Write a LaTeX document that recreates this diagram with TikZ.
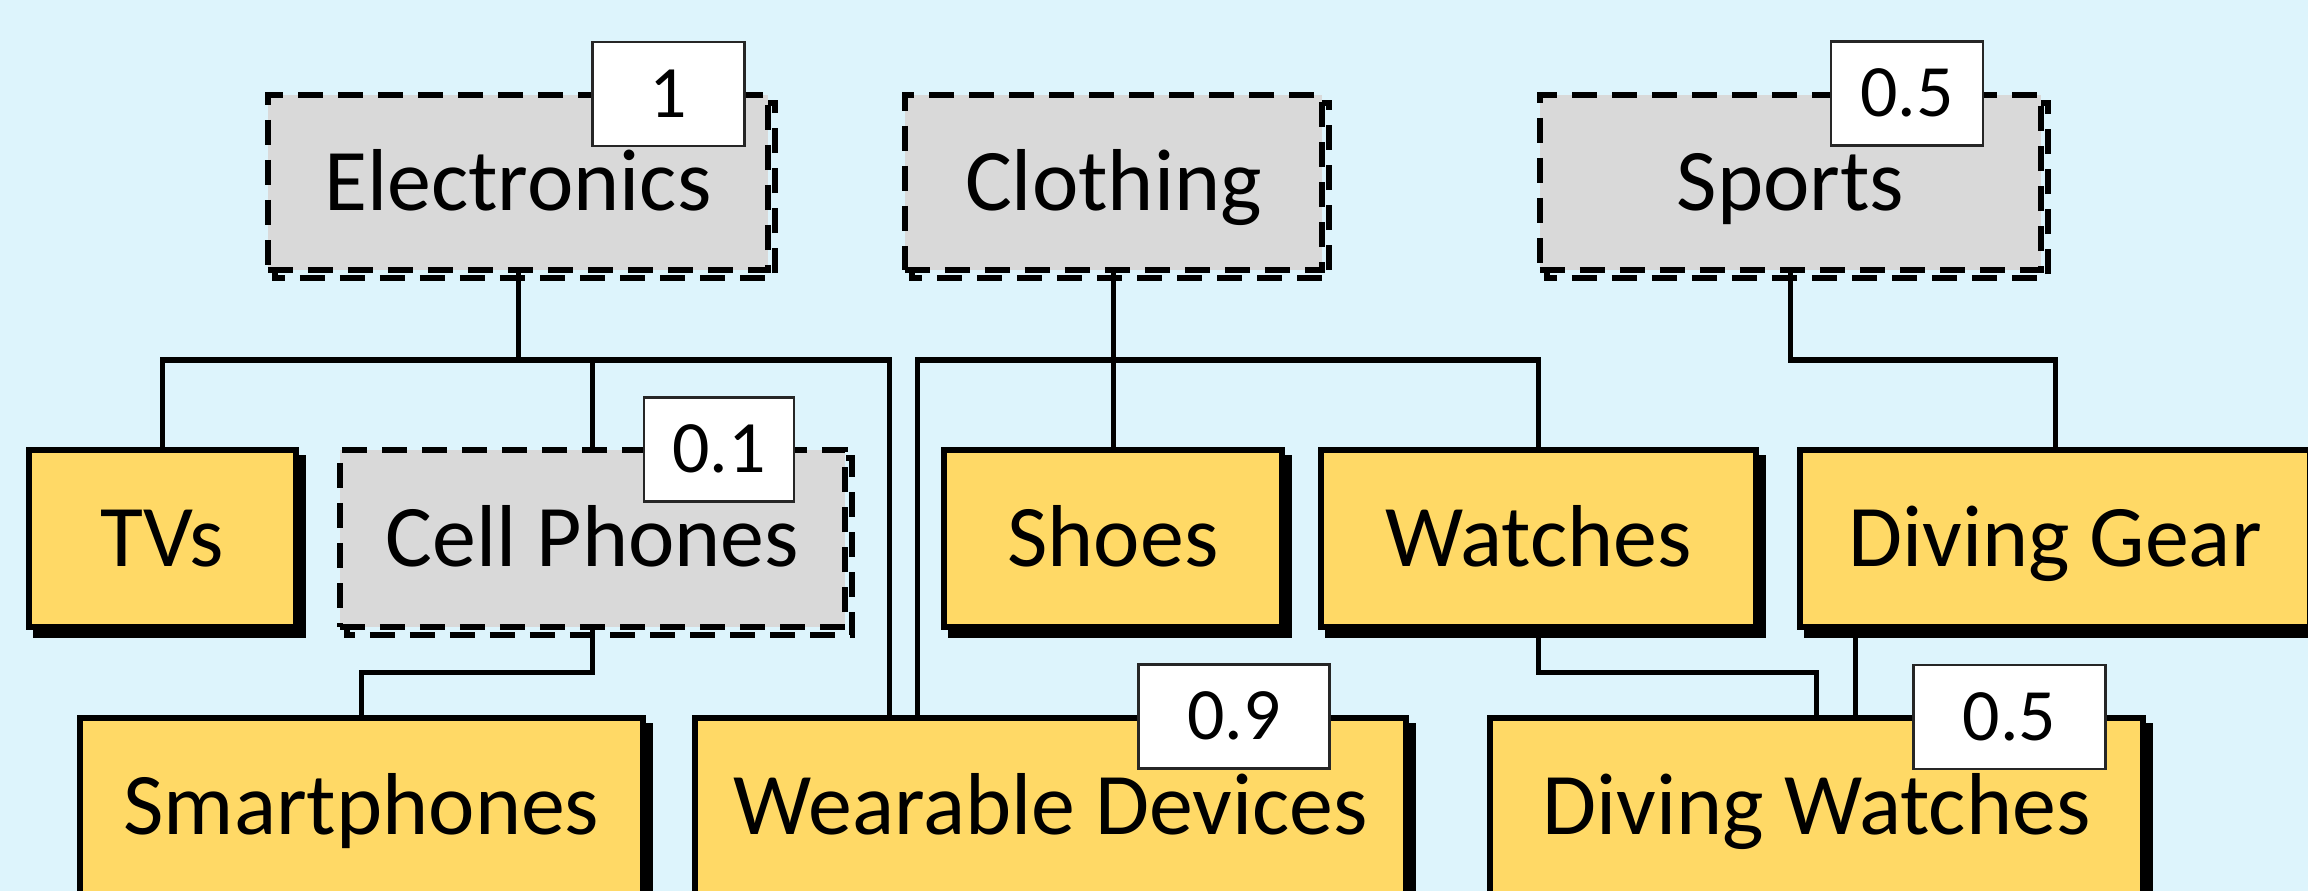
\documentclass[tikz,border=0pt]{standalone}
\usepackage{fontspec}
\setmainfont{Carlito}
\usetikzlibrary{calc}
\definecolor{bgblue}{HTML}{DDF4FC}
\definecolor{boxyellow}{HTML}{FFD966}
\definecolor{boxgray}{HTML}{D9D9D9}
\pgfdeclarelayer{bg}
\pgfdeclarelayer{lines}
\pgfdeclarelayer{shadow}
\pgfsetlayers{bg,lines,shadow,main}
\tikzset{
  solidbox/.style={draw=black, fill=boxyellow, line width=0.06cm, inner sep=0pt, outer sep=0pt,
    font=\fontsize{25}{30}\selectfont, text height=15.8pt, text depth=0pt, align=center},
  dashbox/.style={draw=black, fill=boxgray, line width=0.06cm, dash pattern=on 0.25cm off 0.15cm,
    inner sep=0pt, outer sep=0pt, font=\fontsize{25}{30}\selectfont, text height=15.8pt, text depth=0pt},
  badge/.style={draw=black!85, fill=white, line width=0.025cm, inner sep=0pt, outer sep=0pt,
    minimum height=1.04cm, font=\fontsize{21}{25}\selectfont, text height=13.3pt, text depth=0pt},
  conn/.style={draw=black, line width=0.05cm},
  solidshadow/.style={fill=black, draw=black, line width=0.06cm},
  dashshadow/.style={draw=black, line width=0.06cm, dash pattern=on 0.25cm off 0.15cm},
}
\begin{document}
\begin{tikzpicture}[x=0.01cm, y=-0.01cm]
\useasboundingbox (0,0) rectangle (2308,891);
\begin{pgfonlayer}{bg}
\fill[bgblue] (0,0) rectangle (2308,891);
\end{pgfonlayer}

% top row
\node[dashbox, minimum width=5.00cm, minimum height=1.75cm] (elec) at (518,182.5) {Electronics};
\node[dashbox, minimum width=4.17cm, minimum height=1.75cm] (cloth) at (1113.5,182.5) {Clothing};
\node[dashbox, minimum width=5.01cm, minimum height=1.75cm] (sports) at (1790.5,182.5) {Sports};

% middle row
\node[solidbox, minimum width=2.67cm, minimum height=1.77cm] (tvs) at (162.5,538.5) {TVs};
\node[dashbox, minimum width=5.05cm, minimum height=1.77cm] (cell) at (592.5,538.5) {Cell Phones};
\node[solidbox, minimum width=3.38cm, minimum height=1.77cm] (shoes) at (1113,538.5) {Shoes};
\node[solidbox, minimum width=4.35cm, minimum height=1.77cm] (watches) at (1538.5,538.5) {Watches};
\node[solidbox, minimum width=5.10cm, minimum height=1.77cm] (divgear) at (2055,538.5) {Diving Gear};

% bottom row
\node[solidbox, minimum width=5.63cm, minimum height=1.77cm] (smart) at (361.5,806.5) {Smartphones};
\node[solidbox, minimum width=7.11cm, minimum height=1.77cm] (wear) at (1050.5,806.5) {Wearable Devices};
\node[solidbox, minimum width=6.53cm, minimum height=1.77cm] (divwatch) at (1816.5,806.5) {Diving Watches};

% badges
\node[badge, minimum width=1.52cm] (b1) at (668.5,94) {1};
\node[badge, minimum width=1.52cm] (b2) at (1907,93.5) {0.5};
\node[badge, minimum width=1.50cm] (b3) at (719,449.5) {0.1};
\node[badge, minimum width=1.91cm] (b4) at (1234,716.5) {0.9};
\node[badge, minimum width=1.92cm] (b5) at (2009.5,717) {0.5};

% helper coordinates
\coordinate (r1) at (0,360);
\coordinate (r2) at (0,672);
\coordinate (xew) at (889,0);
\coordinate (xcw) at (917,0);
\coordinate (xdg) at (1855,0);

\begin{pgfonlayer}{lines}
\draw[conn] (elec.south) -- (elec.south |- r1);
\draw[conn] (tvs.north) |- (r1 -| xew) -- (xew |- wear.north);
\draw[conn] (cell.north) -- (cell.north |- r1);
\draw[conn] (cloth.south) -- (cloth.south |- shoes.north);
\draw[conn] (watches.north) |- (r1 -| xcw) -- (xcw |- wear.north);
\draw[conn] (sports.south) -- (sports.south |- r1) -| (divgear.north);
\draw[conn] (cell.south) -- (cell.south |- r2) -| (smart.north);
\draw[conn] (watches.south) -- (watches.south |- r2) -| (divwatch.north);
\draw[conn] (divgear.south -| xdg) -- (divwatch.north -| xdg);
\end{pgfonlayer}

\begin{pgfonlayer}{shadow}
\foreach \n in {tvs,shoes,watches,divgear,smart,wear,divwatch}
  \path[solidshadow] ([shift={(7,8)}]\n.north west) rectangle ([shift={(7,8)}]\n.south east);
\foreach \n in {elec,cloth,sports,cell}
  \path[dashshadow] ([shift={(7,8)}]\n.north west) rectangle ([shift={(7,8)}]\n.south east);
\end{pgfonlayer}
\end{tikzpicture}
\end{document}
